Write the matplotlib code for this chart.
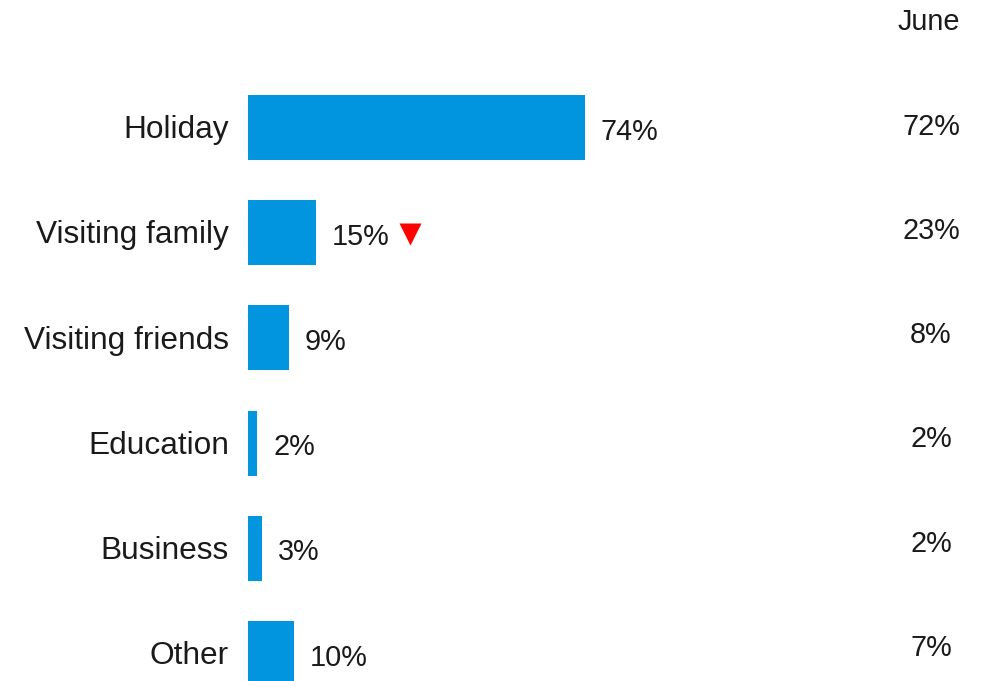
import matplotlib.pyplot as plt
import numpy as np

plt.rcParams['font.family'] = ['Liberation Sans', 'DejaVu Sans']

categories = ['Holiday', 'Visiting family', 'Visiting friends', 'Education', 'Business', 'Other']
current = [74, 15, 9, 2, 3, 10]
june = [72, 23, 8, 2, 2, 7]
down = [False, True, False, False, False, False]

bar_color = '#0095DE'
text_color = '#1a1a1a'

fig = plt.figure(figsize=(9.81, 6.81), dpi=100)
# axes starts where the bars start, runs to the right edge
ax = fig.add_axes([248 / 981, 0, 1 - 248 / 981, 1])
px = 4.55  # pixels per percent
ax.set_xlim(0, 733 / px)
ax.set_ylim(5.262, -1.212)
ax.axis('off')

y = np.arange(len(categories))
ax.barh(y, current, height=0.618, color=bar_color, left=0)

for i, (cat, v) in enumerate(zip(categories, current)):
    ax.text(-19 / px, i + 0.025, cat, ha='right', va='center', fontsize=22.8, color=text_color)
    ax.text(v + 16 / px, i + 0.04, f'{v}%', ha='left', va='center', fontsize=20.8, color=text_color)
    if down[i]:
        ax.plot(v + 94 / px, i + 0.01, marker='v', ms=16, color='#FF0000', mec='none')

june_x = (931 - 248) / px
ax.text(june_x - 2 / px, -1.0, 'June', ha='center', va='center', fontsize=20.8, color=text_color)
for i, v in enumerate(june):
    ax.text(june_x, i * 0.99 - 0.005, f'{v}%', ha='center', va='center', fontsize=20.8, color=text_color)

plt.savefig('out.png', dpi=100)
